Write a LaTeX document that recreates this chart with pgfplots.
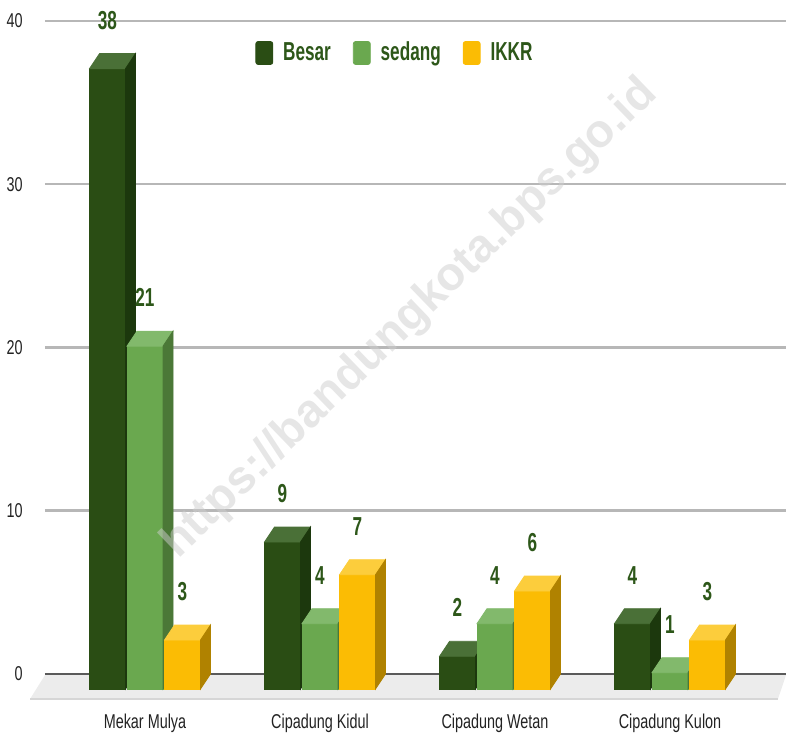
\documentclass[border=0pt]{standalone}
\usepackage{pgfplots}
\pgfplotsset{compat=1.18}
\usepackage{fontspec}
\setmainfont{Liberation Sans}
\newfontfamily\condfam{Liberation Sans}[FakeStretch=0.66]
\newfontfamily\tickfam{Liberation Sans}[FakeStretch=0.72]
\newcommand\labfont{\condfam\bfseries\fontsize{13}{13}\selectfont}
\newcommand\tickfont{\tickfam\fontsize{10}{10}\selectfont}
\newcommand\wmfont{\bfseries\fontsize{23.3}{23.3}\selectfont}

\definecolor{besarF}{HTML}{2A4D14}
\definecolor{besarT}{HTML}{4A7037}
\definecolor{besarS}{HTML}{1C380D}
\definecolor{sedangF}{HTML}{6AA84F}
\definecolor{sedangT}{HTML}{82B96C}
\definecolor{sedangS}{HTML}{4B7837}
\definecolor{ikkrF}{HTML}{FBBC04}
\definecolor{ikkrT}{HTML}{FCCD3C}
\definecolor{ikkrS}{HTML}{B08200}
\definecolor{labgreen}{HTML}{2D5719}
\definecolor{gridcol}{HTML}{B7B7B7}
\definecolor{zeroline}{HTML}{5A5A5A}
\definecolor{floorcol}{HTML}{ECECEC}
\definecolor{floorline}{HTML}{D6D6D6}
\definecolor{tickcol}{HTML}{222222}
\definecolor{wmcol}{HTML}{CDCDCD}

\pgfdeclareplotmark{empty}{}
\pgfplotsset{
  /pgf/number format/assume math mode=true,
  bar3d/.style n args={4}{
    scatter, only marks, mark=empty, forget plot,
    visualization depends on={rawy \as \rawy},
    scatter/@pre marker code/.code={%
      \pgfmathsetlengthmacro\barhh{\rawy*8.1625pt}%
      \fill[#2] ({#1-9pt},-7.5pt) rectangle ({#1+9pt},{-7.5pt-\barhh});
      \fill[#3] ({#1-9pt},-7.5pt) -- ({#1+9pt},-7.5pt) -- ({#1+14pt},0pt) -- ({#1-4pt},0pt) -- cycle;
      \fill[#4] ({#1+9pt},-7.5pt) -- ({#1+14pt},0pt) -- ({#1+14pt},{-\barhh}) -- ({#1+9pt},{-7.5pt-\barhh}) -- cycle;
    },
    scatter/@post marker code/.code={},
  },
  barlab/.style={
    draw=none, mark=none, forget plot,
    nodes near coords,
    every node near coord/.append style={font=\labfont, text=labgreen, anchor=center, xshift=#1, yshift=16.75pt},
  },
}

\begin{document}
\begin{tikzpicture}
\useasboundingbox (0,0) rectangle (393pt,368.5pt);
\begin{axis}[
  at={(22.5pt,31.5pt)}, anchor=south west,
  x=87.5pt, y=8.1625pt,
  xmin=-0.571429, xmax=3.662857, ymin=0, ymax=40,
  clip=false,
  axis line style={draw=none},
  major tick length=0pt,
  ytick={10,20,30,40},
  extra y ticks={0},
  extra y tick style={grid style={color=zeroline, line width=1pt}},
  ymajorgrids,
  grid style={color=gridcol, line width=1.25pt},
  xtick={0,1,2,3},
  xticklabels={Mekar Mulya, Cipadung Kidul, Cipadung Wetan, Cipadung Kulon},
  tick label style={font=\tickfont, color=tickcol},
  xticklabel style={anchor=base, yshift=-27.5pt, inner sep=0pt},
  yticklabel style={anchor=east, xshift=-11pt, inner sep=0pt},
  legend columns=3,
  legend style={at={(axis cs:0.62857,38.04)}, anchor=west, draw=none, fill=none, inner sep=0pt,
    font=\labfont, nodes={text=labgreen},
    /tikz/every even column/.append style={column sep=9pt}},
  legend image code/.code={\fill[#1, rounded corners=1.2pt] (0pt,-5.75pt) rectangle (8.5pt,5.75pt); \path (11.5pt,0pt);},
]
\addplot[fill=floorcol, draw=none, forget plot] coordinates {(-0.571429,-0.07) (3.662857,-0.07) (3.617,-1.531) (-0.657,-1.531)} -- cycle;
\addplot[draw=floorline, line width=0.6pt, forget plot] coordinates {(-0.657,-1.531) (3.617,-1.531)};

\addplot[bar3d={-18.75pt}{besarF}{besarT}{besarS}] coordinates {(0,38) (1,9) (2,2) (3,4)};
\addplot[bar3d={0pt}{sedangF}{sedangT}{sedangS}] coordinates {(0,21) (1,4) (2,4) (3,1)};
\addplot[bar3d={18.75pt}{ikkrF}{ikkrT}{ikkrS}] coordinates {(0,3) (1,7) (2,6) (3,3)};

\addplot[barlab={-18.75pt}] coordinates {(0,38) (1,9) (2,2) (3,4)};
\addplot[barlab={0pt}] coordinates {(0,21) (1,4) (2,4) (3,1)};
\addplot[barlab={18.75pt}] coordinates {(0,3) (1,7) (2,6) (3,3)};

\addlegendimage{besarF}\addlegendentry{Besar}
\addlegendimage{sedangF}\addlegendentry{sedang}
\addlegendimage{ikkrF}\addlegendentry{IKKR}
\end{axis}
\node[rotate=44, text=wmcol, text opacity=0.5, font=\wmfont] at (205pt,209pt) {https://bandungkota.bps.go.id};
\end{tikzpicture}
\end{document}
